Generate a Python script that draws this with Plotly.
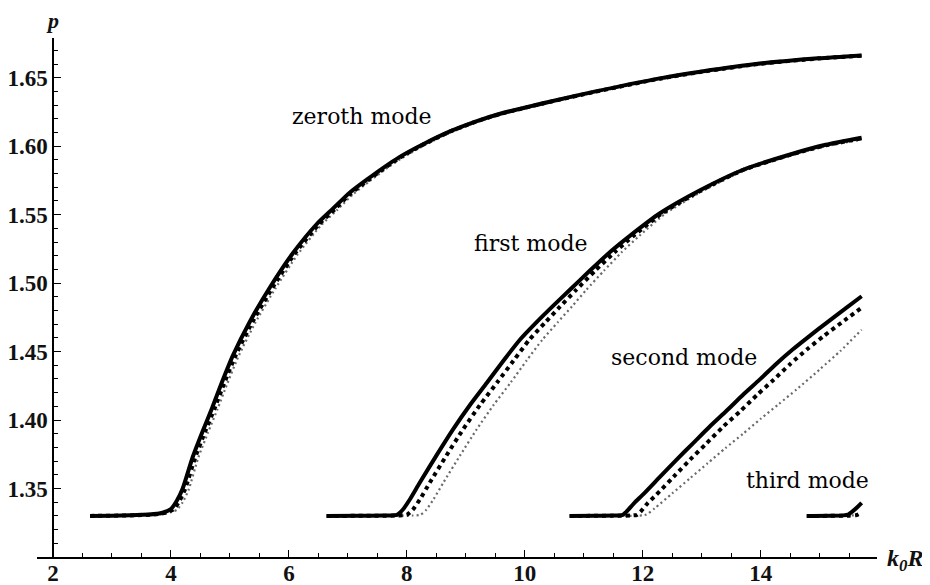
import plotly.graph_objects as go

# ---- data ----
x0_solid = [2.63, 3.0, 3.5, 3.8, 4.0, 4.1, 4.2, 4.37, 4.54, 4.7, 4.86, 5.05, 5.34, 5.68, 6.07, 6.47, 6.75, 7.03, 7.32, 7.6, 7.88, 8.3, 8.73, 9.15, 9.58, 10.42, 11.2, 12.29, 13.0, 13.98, 14.97, 15.71]
p0_solid = [1.330, 1.3302, 1.3308, 1.3318, 1.335, 1.341, 1.350, 1.373, 1.392, 1.409, 1.427, 1.447, 1.472, 1.497, 1.522, 1.543, 1.5545, 1.566, 1.5755, 1.5842, 1.5922, 1.602, 1.6108, 1.6178, 1.6237, 1.6325, 1.640, 1.6495, 1.6545, 1.6603, 1.6642, 1.6663]
x0_thick = [2.63, 3.5, 3.83, 4.04, 4.14, 4.24, 4.41, 4.58, 4.74, 4.9, 5.09, 5.38, 5.72, 6.1, 6.5, 6.78, 7.05, 7.34, 7.61, 7.89, 8.3, 8.73, 9.15, 9.58, 10.42, 11.2, 12.29, 13.0, 13.98, 14.97, 15.71]
p0_thick = [1.330, 1.3306, 1.3316, 1.3346, 1.3405, 1.3495, 1.3725, 1.3915, 1.4085, 1.4265, 1.4465, 1.4715, 1.4965, 1.5215, 1.5425, 1.554, 1.5655, 1.575, 1.5837, 1.5918, 1.6017, 1.6106, 1.6176, 1.6235, 1.6323, 1.6398, 1.6493, 1.6543, 1.6601, 1.664, 1.6661]
x0_thin = [2.63, 3.6, 3.9, 4.1, 4.2, 4.3, 4.46, 4.63, 4.79, 4.95, 5.14, 5.43, 5.77, 6.15, 6.54, 6.82, 7.09, 7.37, 7.64, 7.92, 8.33, 8.76, 9.17, 9.6, 10.44, 11.21, 12.3, 13.0, 13.98, 14.97, 15.71]
p0_thin = [1.330, 1.3305, 1.3315, 1.3345, 1.340, 1.349, 1.372, 1.391, 1.408, 1.426, 1.446, 1.471, 1.496, 1.521, 1.542, 1.5535, 1.565, 1.5745, 1.5832, 1.5914, 1.6014, 1.6103, 1.6173, 1.6232, 1.632, 1.6395, 1.649, 1.654, 1.6598, 1.6637, 1.6658]

x1_solid = [6.64, 7.2, 7.6, 7.83, 7.93, 8.05, 8.22, 8.5, 8.78, 9.07, 9.36, 9.64, 9.92, 10.2, 10.47, 10.76, 11.1, 11.44, 11.78, 12.29, 12.97, 13.69, 14.54, 15.1, 15.71]
p1_solid = [1.330, 1.3301, 1.3303, 1.3308, 1.3345, 1.342, 1.3544, 1.374, 1.393, 1.411, 1.4274, 1.4435, 1.4588, 1.4715, 1.483, 1.495, 1.509, 1.5225, 1.5345, 1.551, 1.5678, 1.5826, 1.5945, 1.6010, 1.6062]
x1_thick = [6.64, 7.5, 7.85, 8.0, 8.1, 8.22, 8.39, 8.67, 8.95, 9.24, 9.53, 9.81, 10.08, 10.35, 10.6, 10.87, 11.19, 11.52, 11.84, 12.33, 12.99, 13.7, 14.55, 15.1, 15.71]
p1_thick = [1.330, 1.3301, 1.3303, 1.3308, 1.3345, 1.342, 1.3544, 1.374, 1.393, 1.411, 1.4274, 1.4435, 1.4588, 1.4715, 1.483, 1.495, 1.509, 1.5225, 1.5345, 1.551, 1.5678, 1.5826, 1.5943, 1.6006, 1.6058]
x1_thin = [6.64, 7.8, 8.1, 8.23, 8.33, 8.45, 8.62, 8.9, 9.18, 9.47, 9.76, 10.03, 10.3, 10.56, 10.8, 11.04, 11.34, 11.64, 11.94, 12.39, 13.04, 13.74, 14.57, 15.11, 15.71]
p1_thin = [1.330, 1.3301, 1.3303, 1.3308, 1.3345, 1.342, 1.3544, 1.374, 1.393, 1.411, 1.4274, 1.4435, 1.4588, 1.4715, 1.483, 1.495, 1.509, 1.5225, 1.5345, 1.551, 1.5678, 1.5826, 1.5940, 1.6000, 1.6048]

x2_solid = [10.76, 11.2, 11.5, 11.66, 11.72, 11.85, 12.0, 12.29, 12.57, 12.85, 13.14, 13.42, 13.7, 13.98, 14.26, 14.54, 14.83, 15.12, 15.42, 15.71]
p2_solid = [1.330, 1.3301, 1.3303, 1.3308, 1.333, 1.3392, 1.3455, 1.3585, 1.371, 1.383, 1.3955, 1.4068, 1.4185, 1.4295, 1.441, 1.4515, 1.4615, 1.4712, 1.481, 1.4904]
x2_thick = [10.76, 11.5, 11.8, 11.9, 11.96, 12.08, 12.23, 12.52, 12.8, 13.08, 13.37, 13.66, 13.94, 14.22, 14.5, 14.78, 15.07, 15.37, 15.71]
p2_thick = [1.330, 1.3301, 1.3303, 1.3308, 1.333, 1.3392, 1.3455, 1.3585, 1.371, 1.383, 1.3955, 1.4068, 1.4185, 1.4295, 1.441, 1.4515, 1.4615, 1.4712, 1.4820]
x2_thin = [10.76, 11.8, 12.0, 12.06, 12.2, 12.5, 12.8, 13.1, 13.4, 13.7, 14.0, 14.3, 14.61, 15.0, 15.35, 15.71]
p2_thin = [1.330, 1.3301, 1.3304, 1.331, 1.3355, 1.3465, 1.3575, 1.3685, 1.3795, 1.390, 1.401, 1.4115, 1.4225, 1.437, 1.4505, 1.466]

x3_solid = [14.78, 15.2, 15.4, 15.48, 15.56, 15.64, 15.71]
p3_solid = [1.330, 1.3301, 1.3304, 1.331, 1.3335, 1.3365, 1.3395]
x3_thick = [14.78, 15.5, 15.62, 15.71]
p3_thick = [1.330, 1.3302, 1.3306, 1.3325]
x3_thin = [14.78, 15.71]
p3_thin = [1.330, 1.3305]

mode_labels = ["zeroth mode", "first mode", "second mode", "third mode"]
label_x = [7.24, 10.11, 12.69, 14.79]
label_p = [1.6215, 1.5288, 1.4456, 1.3558]

x_ticks = [2, 4, 6, 8, 10, 12, 14]
y_ticks = [1.35, 1.40, 1.45, 1.50, 1.55, 1.60, 1.65]
y_tick_text = ["1.35", "1.40", "1.45", "1.50", "1.55", "1.60", "1.65"]

# ---- figure ----
fig = go.Figure()

thin_sets = [(x0_thin, p0_thin), (x1_thin, p1_thin), (x2_thin, p2_thin), (x3_thin, p3_thin)]
thick_sets = [(x0_thick, p0_thick), (x1_thick, p1_thick), (x2_thick, p2_thick), (x3_thick, p3_thick)]
solid_sets = [(x0_solid, p0_solid), (x1_solid, p1_solid), (x2_solid, p2_solid), (x3_solid, p3_solid)]

for xs, ps in thin_sets:
    fig.add_trace(go.Scatter(x=xs, y=ps, mode="lines", showlegend=False, hoverinfo="skip",
                             line=dict(color="#6a6a6a", width=2.2, dash="2px,3px", shape="spline", smoothing=0.6)))
for xs, ps in thick_sets:
    fig.add_trace(go.Scatter(x=xs, y=ps, mode="lines", showlegend=False, hoverinfo="skip",
                             line=dict(color="black", width=4, dash="4px,4px", shape="spline", smoothing=0.6)))
for xs, ps in solid_sets:
    fig.add_trace(go.Scatter(x=xs, y=ps, mode="lines", showlegend=False, hoverinfo="skip",
                             line=dict(color="black", width=4, shape="spline", smoothing=0.6)))

for txt, lx, lp in zip(mode_labels, label_x, label_p):
    fig.add_annotation(x=lx, y=lp, text=txt, showarrow=False, xanchor="center", yanchor="middle",
                       font=dict(family="DejaVu Serif", size=22, color="black"))

# axis labels
fig.add_annotation(xref="paper", yref="paper", x=0.018, y=1.033, text="<b><i>p</i></b>", showarrow=False,
                   xanchor="center", yanchor="middle",
                   font=dict(family="Liberation Serif", size=22, color="#111"))
fig.add_annotation(xref="paper", yref="paper", x=1.0, y=0.0, text="<b><i>k<sub>0</sub>R</i></b>", showarrow=False,
                   xanchor="left", yanchor="middle", xshift=8, yshift=-3,
                   font=dict(family="Liberation Serif", size=24, color="#111"))

tickfont = dict(family="Liberation Serif", size=23, color="#111", weight="bold")

# the page body adds an 8px margin, so the figure is 8px smaller and its margins are shifted
fig.update_layout(
    width=922, height=577,
    margin=dict(l=29, r=53, t=30, b=28, autoexpand=False),
    paper_bgcolor="white", plot_bgcolor="white",
    xaxis=dict(range=[1.73, 15.97], showline=True, linecolor="black", linewidth=1.5, automargin=False,
               ticks="inside", ticklen=7, tickwidth=1.3, tickcolor="black",
               tickvals=x_ticks, ticktext=[str(v) for v in x_ticks], tickfont=tickfont,
               showgrid=False, zeroline=False, ticklabelstandoff=-5,
               minor=dict(dtick=0.5, tick0=0, ticks="inside", ticklen=4, tickwidth=1.1, tickcolor="black", showgrid=False)),
    yaxis=dict(range=[1.30, 1.679], anchor="free", position=0.019, showline=True, linecolor="black", linewidth=1.5,
               automargin=False,
               ticks="inside", ticklen=7, tickwidth=1.3, tickcolor="black",
               tickvals=y_ticks, ticktext=y_tick_text, tickfont=tickfont,
               showgrid=False, zeroline=False,
               minor=dict(dtick=0.01, tick0=1.30, ticks="inside", ticklen=4, tickwidth=1.1, tickcolor="black", showgrid=False)),
)

fig.write_html("out.html")
